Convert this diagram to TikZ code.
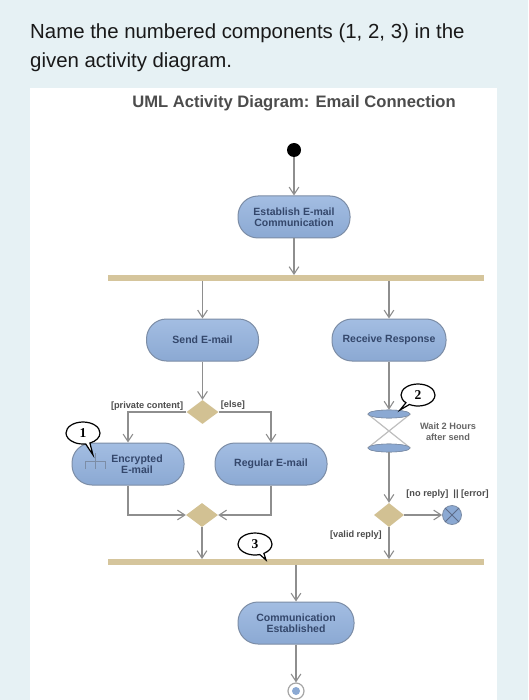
\documentclass[tikz,border=0pt]{standalone}
\usepackage{fontspec}
\setmainfont{Liberation Sans}
\newfontfamily\calloutfont{Liberation Serif}
\usetikzlibrary{arrows.meta,positioning,calc,shapes.geometric,shapes.callouts}
\definecolor{umlbg}{HTML}{E6F1F4}
\definecolor{umlfill}{HTML}{8BA9D3}
\definecolor{umlfilltop}{HTML}{A3BDE2}
\definecolor{umledge}{HTML}{7C8DA6}
\definecolor{umltext}{HTML}{34476B}
\definecolor{umlbar}{HTML}{D5C59C}
\definecolor{umldiam}{HTML}{D2C193}
\definecolor{umlline}{HTML}{8E8E8E}
\definecolor{umlguard}{HTML}{4C4C4C}
\tikzset{
  flowarrow/.style={-{Straight Barb[length=2.6mm,width=3.4mm]}, line width=1.1pt, draw=umlline},
  action/.style={draw=umledge, line width=1pt, rounded corners=20pt, top color=umlfilltop,
    bottom color=umlfill, align=center, minimum width=112pt, minimum height=42pt,
    font=\fontsize{10.5}{11.5}\selectfont\bfseries, text=umltext},
  syncbar/.style={fill=umlbar, draw=none, minimum width=376pt, minimum height=5.5pt, inner sep=0pt},
  choice/.style={diamond, fill=umldiam, draw=none, aspect=1.3, minimum width=32pt,
    minimum height=24pt, inner sep=0pt},
  guard/.style={font=\fontsize{9.2}{11}\selectfont\bfseries, text=umlguard, inner sep=1pt},
  timebar/.style={ellipse, fill=umlfill, draw=umledge, line width=0.6pt, minimum width=42pt,
    minimum height=8pt, inner sep=0pt},
  bubble/.style={ellipse callout, draw=black, line width=1.2pt, fill=white, inner sep=1pt,
    minimum width=34pt, minimum height=22pt, font=\calloutfont\fontsize{13.5}{13.5}\selectfont\bfseries}
}

\begin{document}
\begin{tikzpicture}[x=1pt, y=-1pt]
  \useasboundingbox (0,0) rectangle (528,700);
  \fill[umlbg] (0,0) rectangle (528,700);
  \fill[white] (30,88) rectangle (497,700);

  % question and title
  \node[anchor=base west, inner sep=0pt, font=\fontsize{20.4}{24}\selectfont, text=black!90] (ask1) at (30,39)
    {Name the numbered components (1, 2, 3) in the};
  \node[anchor=base west, inner sep=0pt, font=\fontsize{20.4}{24}\selectfont, text=black!90] (ask2) at (30,68)
    {given activity diagram.};
  \node[font=\fontsize{16.6}{18}\selectfont\bfseries, text=black!70] (title) at (294,103)
    {UML Activity Diagram: Email Connection};

  % nodes
  \node[circle, fill=black, minimum size=14pt, inner sep=0pt] (start) at (294,150) {};
  \node[action] (estab) at (294,217) {Establish E-mail\\Communication};
  \node[syncbar] (fork) at (295.5,278) {};
  \node[action] (send) at (202.5,340) {Send E-mail};
  \node[action, minimum width=114pt] (recv) at (389,340) {Receive Response};
  \node[choice] (split) at (202.5,412) {};
  \node[action] (enc) at (128,464) {\hspace*{18pt}Encrypted\\\hspace*{18pt}E-mail};
  \node[action] (reg) at (271,464) {Regular E-mail};
  \node[choice] (merge) at (202,515) {};
  \node[timebar] (waittop) at (389,414) {};
  \node[timebar] (waitbot) at (389,448) {};
  \node[choice, minimum width=30pt] (check) at (389,515) {};
  \node[circle, fill=umlfill, draw=umledge, line width=0.8pt, minimum size=19pt, inner sep=0pt] (fail) at (452,515) {};
  \node[syncbar] (join) at (295.5,562) {};
  \node[action, minimum width=116pt] (done) at (296,623) {Communication\\Established};
  \node[circle, draw=umlline!80, line width=1.2pt, fill=white, minimum size=16pt, inner sep=0pt] (stop) at (296,691) {};
  \node[circle, fill=umlfill, minimum size=8pt, inner sep=0pt] at (stop) {};

  % rake icon
  \draw[umledge, line width=0.8pt] ([xshift=24pt,yshift=11pt]enc.west) -- ++(0,16)
    ([xshift=14pt,yshift=-5pt]enc.west) -- ++(0,-8) -- ++(20,0) -- ++(0,8);

  % hourglass
  \draw[black!25, line width=1.2pt] (waittop.west) -- (waitbot.east) (waittop.east) -- (waitbot.west);
  \node[timebar] at (waittop) {};
  \node[timebar] at (waitbot) {};
  \node[guard, text=black!60, align=center] (waitlbl) at (448,432)
    {Wait 2 Hours\\after send};

  % flow final cross
  \draw[umltext!80, line width=0.9pt] (fail.north west) -- (fail.south east) (fail.north east) -- (fail.south west);

  % connectors
  \draw[flowarrow] (start) -- (estab);
  \draw[flowarrow] (estab) -- (estab |- fork.north);
  \draw[flowarrow] (fork.south -| send) -- (send);
  \draw[flowarrow] (fork.south -| recv) -- (recv);
  \draw[flowarrow] (send) -- (split);
  \draw[flowarrow] (split.west) -| (enc.north);
  \draw[flowarrow] (split.east) -| (reg.north);
  \draw[flowarrow] (enc.south) |- (merge.west);
  \draw[flowarrow] (reg.south) |- (merge.east);
  \draw[flowarrow] (merge) -- (join.north -| merge);
  \draw[flowarrow] (recv) -- (waittop);
  \draw[flowarrow] (waitbot) -- (check);
  \draw[flowarrow] (check.east) -- (fail);
  \draw[flowarrow] (check) -- (join.north -| check);
  \draw[flowarrow] (join.south -| done) -- (done);
  \draw[flowarrow] (done) -- (stop);

  % guards
  \node[guard, anchor=south east] (gprivate) at ([xshift=-2pt,yshift=0pt]split.west) {[private content]};
  \node[guard, anchor=south west] (gelse) at ([xshift=1pt,yshift=1pt]split.east) {[else]};
  \node[guard, anchor=south west] (gnoreply) at ([xshift=1pt,yshift=15pt]check.east) {[no reply]\ \ || [error]};
  \node[guard, anchor=east] (gvalid) at ([xshift=-6pt,yshift=-8pt]check.south) {[valid reply]};

  % numbered callouts
  \node[bubble, callout absolute pointer={(93,455)}] (c1) at (83,433) {1};
  \node[bubble, callout absolute pointer={(400,410)}] (c2) at (418,395) {2};
  \node[bubble, callout absolute pointer={(266,560)}] (c3) at (255,544) {3};
\end{tikzpicture}
\end{document}
